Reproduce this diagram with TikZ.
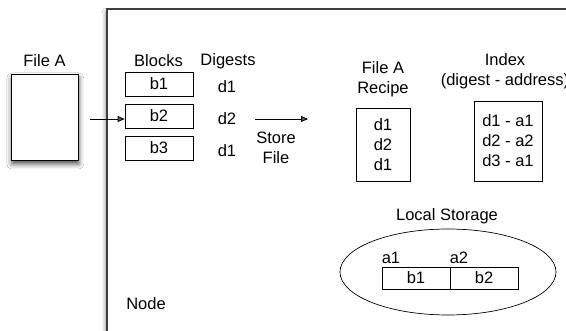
\documentclass[tikz,border=0pt]{standalone}
\usepackage{fontspec}
\setmainfont{Liberation Sans}
\usetikzlibrary{positioning,shapes.geometric,arrows.meta,shadows.blur}

\begin{document}
\begin{tikzpicture}[x=1pt,y=-1pt,
  every node/.style={font=\fontsize{16.5}{20}\selectfont,inner sep=0pt},
  blockbox/.style={draw,line width=0.8pt,minimum width=68pt,minimum height=24pt},
  listbox/.style={draw,line width=0.8pt},
  shade/.style={blur shadow={shadow xshift=0pt,shadow yshift=-4pt,shadow blur radius=5pt,shadow opacity=70}},
  flow/.style={-{Triangle[length=7pt,width=6pt]},line width=0.8pt}]
\fill[white] (0,0) rectangle (566,331);
\clip (0,0) rectangle (566,331);

% Knoop
\draw[shade,fill=white,draw=black!75,line width=1.3pt] (107,9) rectangle (640,390);
\node (nodelbl) at (146,304) {Node};

% Bestand
\node[draw,shade,fill=white,line width=0.9pt,minimum width=67pt,minimum height=86pt] (fileA) at (45.3,117) {};
\node (fileAlbl) at (44.5,61) {File A};
\coordinate (in) at (90,119);

% Blokken en digests
\node (blocks) at (158.5,61) {Blocks};
\node (digests) at (228,61) {Digests};
\node[blockbox] (b1) at (159,84) {b1};
\node[blockbox] (b2) at (159,116) {b2};
\node[blockbox] (b3) at (159,148) {b3};
\node (d1) at (227,87) {d1};
\node (d2) at (227,119) {d2};
\node (d3) at (227,151) {d1};
\draw[flow] (in) -- (in -| b2.west);

% Opslaan
\coordinate (st-a) at (255,119);
\coordinate (st-b) at (308,119);
\draw[flow] (st-a) -- (st-b);
\node[align=center] (store) at (276,147.5) {Store\\File};

% Recept
\node[align=center] (recipelbl) at (383,79) {File A\\Recipe};
\node[listbox,align=center,minimum width=54pt,minimum height=73pt] (recipe) at (383,144.5) {d1\\d2\\d1};

% Index
\node[align=center] (indexlbl) at (505,71.5) {Index\\(digest - address)};
\node[listbox,align=left,minimum width=68pt,minimum height=80pt] (index) at (508,141) {d1 - a1\\d2 - a2\\d3 - a1};

% Lokale opslag
\node (disklbl) at (447,216) {Local Storage};
\node[draw,ellipse,line width=0.7pt,minimum width=216pt,minimum height=86pt] (disk) at (448,272) {};
\node[blockbox,minimum height=22pt] (s1) at (416,278) {b1};
\node[blockbox,minimum height=22pt] (s2) at (484,278) {b2};
\node[anchor=south west,yshift=3pt] (a1) at (s1.north west) {a1};
\node[anchor=south west,yshift=3pt] (a2) at (s2.north west) {a2};
\end{tikzpicture}
\end{document}
